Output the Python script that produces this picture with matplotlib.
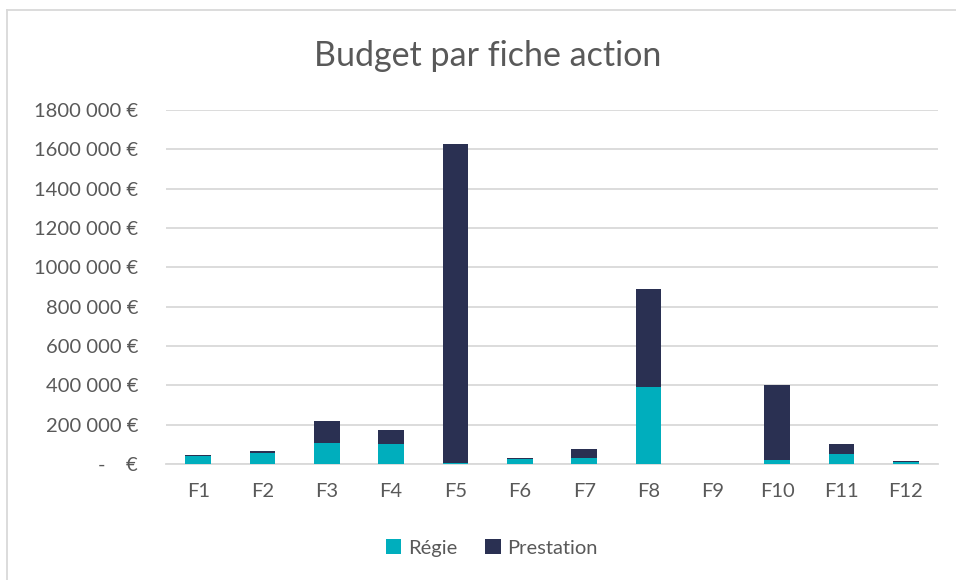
import matplotlib.pyplot as plt
import matplotlib.ticker as ticker
from matplotlib.lines import Line2D
import numpy as np

# values (euros)
fiches = ["F1", "F2", "F3", "F4", "F5", "F6", "F7", "F8", "F9", "F10", "F11", "F12"]
regie = [41000, 56000, 105000, 103000, 5000, 27000, 30000, 390000, 0, 20000, 51000, 12000]
prestation = [5000, 9000, 114000, 70000, 1623000, 5000, 45000, 500000, 0, 382000, 51000, 5000]

y_ticks = [0, 200000, 400000, 600000, 800000, 1000000, 1200000, 1400000, 1600000, 1800000]

plt.rcParams["font.family"] = ["Lato", "DejaVu Sans"]
text_grey = "#595959"
grid_grey = "#d9d9d9"
c_regie = "#00AEBD"
c_prest = "#2A3052"

fig = plt.figure(figsize=(9.56, 5.8), dpi=100)
ax = fig.add_axes([166 / 956, 1 - 464 / 580, (938 - 166) / 956, (464 - 110) / 580])

x = np.arange(len(fiches))
ax.bar(x, regie, width=0.4, color=c_regie, label="Régie", zorder=3)
ax.bar(x, prestation, width=0.4, bottom=regie, color=c_prest, label="Prestation", zorder=3)

ax.set_xlim(-0.5, len(fiches) - 0.5)
ax.set_ylim(0, 1800000)
ax.set_yticks(y_ticks)


def euro(v, _):
    if v == 0:
        return "-    €"
    return f"{int(v // 1000)} 000 €"


ax.yaxis.set_major_formatter(ticker.FuncFormatter(euro))
ax.set_xticks(x)
ax.set_xticklabels(fiches)
ax.tick_params(axis="both", length=0, labelsize=14.5, colors=text_grey)
ax.tick_params(axis="y", pad=20)
ax.tick_params(axis="x", pad=14)
ax.grid(axis="y", color=grid_grey, linewidth=1.3, zorder=0)
for side in ["top", "right", "left"]:
    ax.spines[side].set_visible(False)
ax.spines["bottom"].set_color(grid_grey)
ax.spines["bottom"].set_linewidth(1.3)

fig.text(488 / 956, 1 - 56 / 580, "Budget par fiche action", ha="center", va="center",
         fontsize=24.5, color=text_grey)

handles, labels = ax.get_legend_handles_labels()
fig.legend(handles, labels, loc="center", bbox_to_anchor=(492 / 956, 1 - 548 / 580),
           ncol=2, frameon=False, fontsize=14.5, labelcolor=text_grey,
           handlelength=0.75, handleheight=0.75, handletextpad=0.35, columnspacing=1.4)

# chart border (left and top edges visible in the reference)
fig.add_artist(Line2D([7 / 956, 7 / 956], [0, 1 - 10 / 580], color=grid_grey, linewidth=1.3))
fig.add_artist(Line2D([7 / 956, 1], [1 - 10 / 580, 1 - 10 / 580], color=grid_grey, linewidth=1.3))

fig.savefig("out.png", dpi=100)
